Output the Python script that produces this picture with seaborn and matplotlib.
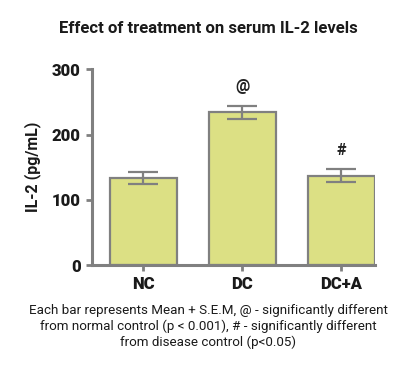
import pandas as pd
import numpy as np
import matplotlib.pyplot as plt
import seaborn as sns

groups = ["NC", "DC", "DC+A"]
means = [133, 234, 137]
sems = [9.5, 9.5, 9.5]
marks = ["", "@", "#"]

sns.set_style("ticks")
plt.rcParams["font.family"] = ["Roboto", "DejaVu Sans"]

df = pd.DataFrame({"group": groups, "il2": means})

fig = plt.figure(figsize=(4.16, 3.77), dpi=100)
ax = fig.add_axes([0.221, 0.297, 0.68, 0.519])

edge = "#808080"
sns.barplot(data=df, x="group", y="il2", color="#dce084", edgecolor=edge,
            linewidth=1.6, width=0.68, saturation=1, errorbar=None, ax=ax)
ax.errorbar(range(len(groups)), means, yerr=sems, fmt="none", ecolor=edge,
            elinewidth=1.6, capsize=11, capthick=1.6, zorder=3)
for i, m in enumerate(marks):
    if m:
        ax.text(i, means[i] + sems[i] + 18, m, ha="center", va="bottom",
                fontsize=11.5, fontweight="bold", color="#222222")

ax.set_ylim(0, 300)
ax.set_xlim(-0.52, 2.34)
ax.set_yticks([0, 100, 200, 300])
for side in ["left", "bottom"]:
    ax.spines[side].set_linewidth(2.2)
    ax.spines[side].set_color(edge)
sns.despine(ax=ax)
ax.tick_params(axis="both", width=2, length=4, pad=4, color=edge,
               labelsize=12, labelcolor="#1a1a1a")
for lab in ax.get_xticklabels() + ax.get_yticklabels():
    lab.set_fontweight("heavy")
ax.set_xlabel("")
ax.set_ylabel("IL-2 (pg/mL)", fontsize=11.5, fontweight="bold",
              color="#1a1a1a", labelpad=8)

fig.text(0.5, 0.912, "Effect of treatment on serum IL-2 levels", ha="center",
         fontsize=12, fontweight="bold", color="#1a1a1a")
fig.text(0.5, 0.075,
         "Each bar represents Mean + S.E.M, @ - significantly different\n"
         "from normal control (p < 0.001), # - significantly different\n"
         "from disease control (p<0.05)",
         ha="center", va="bottom", fontsize=9.6, color="#1a1a1a",
         linespacing=1.25)

fig.savefig("out.png", dpi=100)
